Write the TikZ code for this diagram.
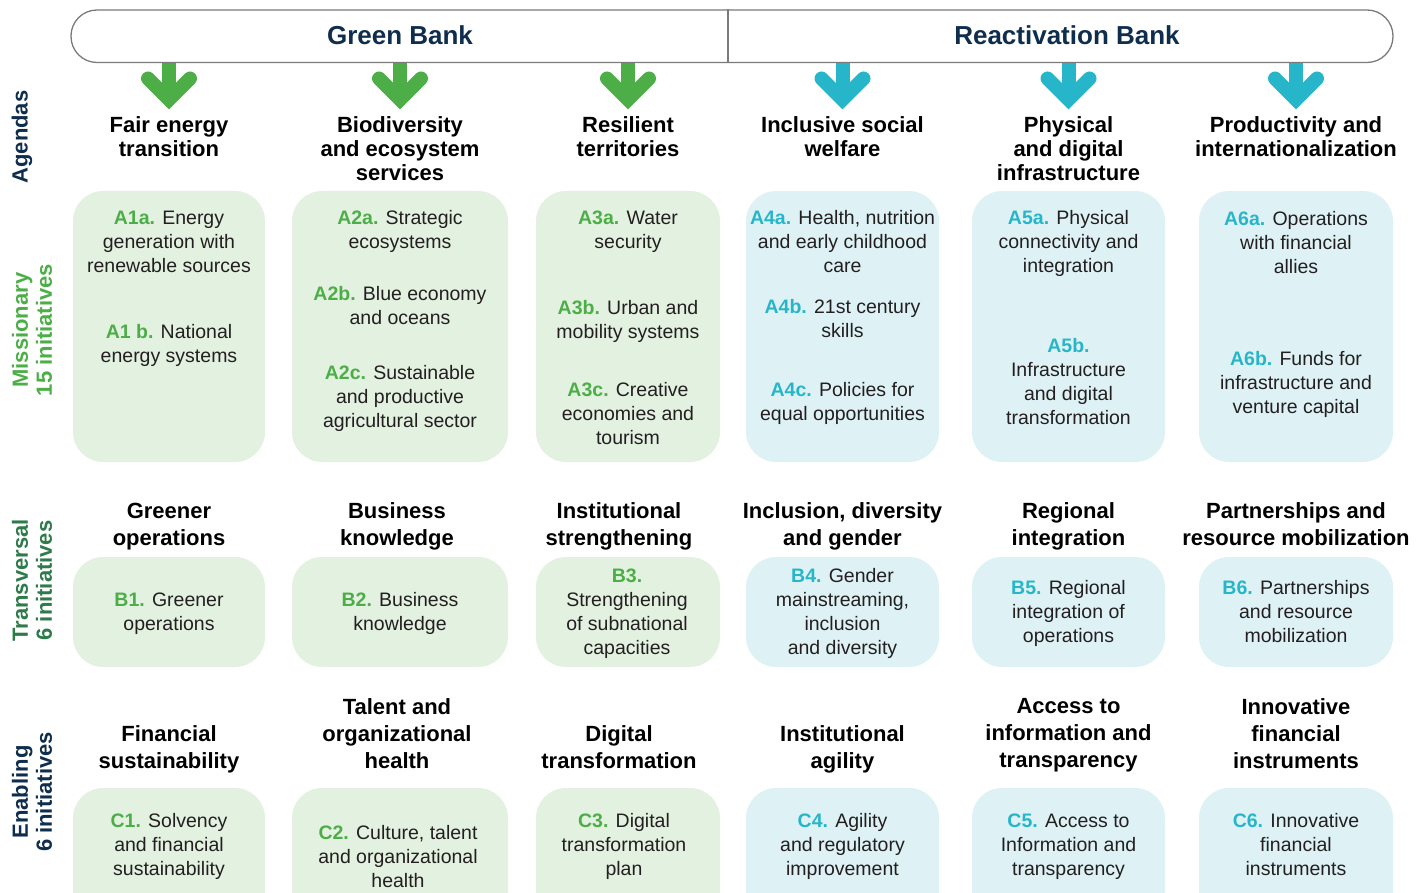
\documentclass[tikz,border=0pt]{standalone}
\usepackage{fontspec}
\setmainfont{Liberation Sans}
\definecolor{gbgreen}{HTML}{4DAE48}
\definecolor{gbdkgreen}{HTML}{2F7A4B}
\definecolor{gbcyan}{HTML}{27B6C9}
\definecolor{gbnavy}{HTML}{0F2D4D}
\definecolor{gbfillg}{HTML}{E3F1E1}
\definecolor{gbfillb}{HTML}{DEF2F6}
\definecolor{gbtext}{HTML}{231F20}
\definecolor{gbgray}{HTML}{7A7A7A}
\newcommand\gtag[1]{\textbf{\textcolor{gbgreen}{#1}}}
\newcommand\ctag[1]{\textbf{\textcolor{gbcyan}{#1}}}
\tikzset{
  gcell/.style={rectangle, fill=gbfillg, rounded corners=30pt, inner sep=0pt},
  bcell/.style={rectangle, fill=gbfillb, rounded corners=30pt, inner sep=0pt},
  headtxt/.style={font=\bfseries\fontsize{22}{24}\selectfont, align=center, text=black, inner sep=0pt},
  headtxtb/.style={font=\bfseries\fontsize{22}{27}\selectfont, align=center, text=black, inner sep=0pt},
  bodytxt/.style={font=\fontsize{19.5}{24}\selectfont, align=center, text=gbtext, inner sep=0pt},
  sidetxt/.style={font=\bfseries\fontsize{22}{24}\selectfont, align=center, rotate=90, inner sep=0pt},
  titletxt/.style={font=\bfseries\fontsize{26}{30}\selectfont, text=gbnavy, inner sep=0pt},
  shaft/.style={line width=14pt},
  chevron/.style={line width=14pt, line cap=round, line join=miter},
  barline/.style={draw=gbgray, line width=1.3pt}
}
\begin{document}
\begin{tikzpicture}[x=1pt,y=-1pt]
\useasboundingbox (0,0) rectangle (1428,893);
\clip (0,0) rectangle (1428,893);

% ---------- arrows ----------
\foreach \ax/\ac [count=\i] in {169/gbgreen,400/gbgreen,628/gbgreen,842.5/gbcyan,1068.5/gbcyan,1296/gbcyan}{
  \coordinate (arr\i) at (\ax,62);
  \draw[shaft,\ac] (arr\i) -- ++(0,34);
  \draw[chevron,\ac] (arr\i) ++(-21,16.5) -- ++(21,21) -- ++(21,-21);
}

% ---------- top bar ----------
\node[barline, rectangle, rounded corners=26pt, minimum width=1322pt, minimum height=52.5pt] (bar) at (732,36.25) {};
\coordinate (div) at (728,0);
\draw[barline] (bar.north -| div) -- (bar.south -| div);
\node[titletxt] (gbank) at (400,35.5) {Green Bank};
\node[titletxt] (rbank) at (1067,35.5) {Reactivation Bank};

% ---------- side labels ----------
\node[sidetxt, text=gbnavy] (lagenda) at (22,137) {Agendas};
\node[sidetxt, text=gbgreen] (lmiss) at (32,330) {Missionary\\15 initiatives};
\node[sidetxt, text=gbdkgreen] (ltrans) at (32,580.5) {Transversal\\6 initiatives};
\node[sidetxt, text=gbnavy] (lenab) at (32,792) {Enabling\\6 initiatives};

% ---------- agenda headings ----------
\node[headtxt] (h1) at (169,137) {Fair energy\\transition};
\node[headtxt] (h2) at (400,149) {Biodiversity\\and ecosystem\\services};
\node[headtxt] (h3) at (628,137) {Resilient\\territories};
\node[headtxt] (h4) at (842.5,137) {Inclusive social\\welfare};
\node[headtxt] (h5) at (1068.5,149) {Physical\\and digital\\infrastructure};
\node[headtxt] (h6) at (1296,137) {Productivity and\\internationalization};

% ---------- row A boxes ----------
\node[gcell, minimum width=192pt, minimum height=271pt] (ba1) at (169,326.5) {};
\node[gcell, minimum width=216pt, minimum height=271pt] (ba2) at (400,326.5) {};
\node[gcell, minimum width=184pt, minimum height=271pt] (ba3) at (628,326.5) {};
\node[bcell, minimum width=193pt, minimum height=271pt] (ba4) at (842.5,326.5) {};
\node[bcell, minimum width=193pt, minimum height=271pt] (ba5) at (1068.5,326.5) {};
\node[bcell, minimum width=194pt, minimum height=271pt] (ba6) at (1296,326.5) {};

\node[bodytxt] (a1a) at (169,241.5) {\gtag{A1a.} Energy\\generation with\\renewable sources};
\node[bodytxt] (a1b) at (169,345) {\gtag{A1 b.} National\\energy systems};
\node[bodytxt] (a2a) at (400,231.5) {\gtag{A2a.} Strategic\\ecosystems};
\node[bodytxt] (a2b) at (400,306) {\gtag{A2b.} Blue economy\\and oceans};
\node[bodytxt] (a2c) at (400,398.5) {\gtag{A2c.} Sustainable\\and productive\\agricultural sector};
\node[bodytxt] (a3a) at (628,231.5) {\gtag{A3a.} Water\\security};
\node[bodytxt] (a3b) at (628,321) {\gtag{A3b.} Urban and\\mobility systems};
\node[bodytxt] (a3c) at (628,414) {\gtag{A3c.} Creative\\economies and\\tourism};
\node[bodytxt] (a4a) at (842.5,241.5) {\ctag{A4a.} Health, nutrition\\and early childhood\\care};
\node[bodytxt] (a4b) at (842.5,318.5) {\ctag{A4b.} 21st century\\skills};
\node[bodytxt] (a4c) at (842.5,403.5) {\ctag{A4c.} Policies for\\equal opportunities};
\node[bodytxt] (a5a) at (1068.5,243.5) {\ctag{A5a.} Physical\\connectivity and\\integration};
\node[bodytxt] (a5b) at (1068.5,381.5) {\ctag{A5b.}\\Infrastructure\\and digital\\transformation};
\node[bodytxt] (a6a) at (1296,242.5) {\ctag{A6a.} Operations\\with financial\\allies};
\node[bodytxt] (a6b) at (1296,384) {\ctag{A6b.} Funds for\\infrastructure and\\venture capital};

% ---------- transversal headings ----------
\node[headtxtb] (hb1) at (169,527) {Greener\\operations};
\node[headtxtb] (hb2) at (397,526) {Business\\knowledge};
\node[headtxtb] (hb3) at (619,526) {Institutional\\strengthening};
\node[headtxtb] (hb4) at (842.5,526) {Inclusion, diversity\\and gender};
\node[headtxtb] (hb5) at (1068.5,526) {Regional\\integration};
\node[headtxtb] (hb6) at (1296,524) {Partnerships and\\resource mobilization};

% ---------- row B boxes ----------
\node[gcell, minimum width=192pt, minimum height=110pt] (bb1) at (169,612) {};
\node[gcell, minimum width=216pt, minimum height=110pt] (bb2) at (400,612) {};
\node[gcell, minimum width=184pt, minimum height=110pt] (bb3) at (628,612) {};
\node[bcell, minimum width=193pt, minimum height=110pt] (bb4) at (842.5,612) {};
\node[bcell, minimum width=193pt, minimum height=110pt] (bb5) at (1068.5,612) {};
\node[bcell, minimum width=194pt, minimum height=110pt] (bb6) at (1296,612) {};

\node[bodytxt] (b1) at (169,614) {\gtag{B1.} Greener\\operations};
\node[bodytxt] (b2) at (400,613.5) {\gtag{B2.} Business\\knowledge};
\node[bodytxt] (b3) at (627,613.5) {\gtag{B3.}\\Strengthening\\of subnational\\capacities};
\node[bodytxt] (b4) at (842.5,613) {\ctag{B4.} Gender\\mainstreaming,\\inclusion\\and diversity};
\node[bodytxt] (b5) at (1068.5,613.5) {\ctag{B5.} Regional\\integration of\\operations};
\node[bodytxt] (b6) at (1296,611.5) {\ctag{B6.} Partnerships\\and resource\\mobilization};

% ---------- enabling headings ----------
\node[headtxtb] (hc1) at (169,749) {Financial\\sustainability};
\node[headtxtb] (hc2) at (397,734) {Talent and\\organizational\\health};
\node[headtxtb] (hc3) at (619,747) {Digital\\transformation};
\node[headtxtb] (hc4) at (842.5,749) {Institutional\\agility};
\node[headtxtb] (hc5) at (1068.5,735) {Access to\\information and\\transparency};
\node[headtxtb] (hc6) at (1296,733.5) {Innovative\\financial\\instruments};

% ---------- row C boxes ----------
\node[gcell, minimum width=192pt, minimum height=162pt] (bc1) at (169,869) {};
\node[gcell, minimum width=216pt, minimum height=162pt] (bc2) at (400,869) {};
\node[gcell, minimum width=184pt, minimum height=162pt] (bc3) at (628,869) {};
\node[bcell, minimum width=193pt, minimum height=162pt] (bc4) at (842.5,869) {};
\node[bcell, minimum width=193pt, minimum height=162pt] (bc5) at (1068.5,869) {};
\node[bcell, minimum width=194pt, minimum height=162pt] (bc6) at (1296,869) {};

\node[bodytxt] (c1) at (169,846.5) {\gtag{C1.} Solvency\\and financial\\sustainability};
\node[bodytxt] (c2) at (398,856.5) {\gtag{C2.} Culture, talent\\and organizational\\health};
\node[bodytxt] (c3) at (624,846.5) {\gtag{C3.} Digital\\transformation\\plan};
\node[bodytxt] (c4) at (842.5,846.5) {\ctag{C4.} Agility\\and regulatory\\improvement};
\node[bodytxt] (c5) at (1068.5,846.5) {\ctag{C5.} Access to\\Information and\\transparency};
\node[bodytxt] (c6) at (1296,844.5) {\ctag{C6.} Innovative\\financial\\instruments};
\end{tikzpicture}
\end{document}
